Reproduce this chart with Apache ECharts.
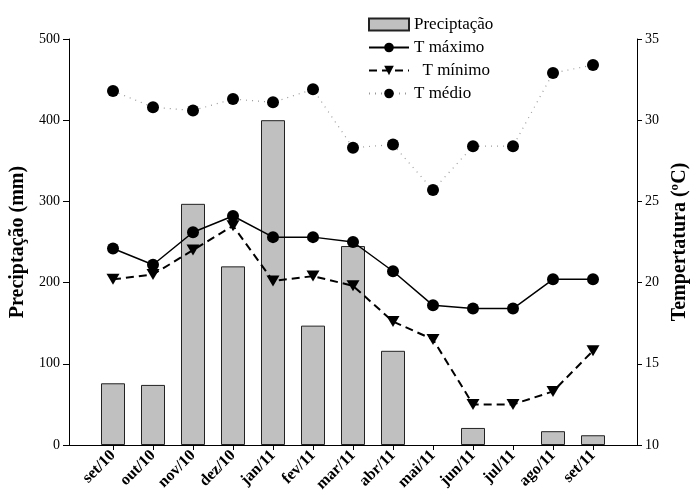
<!DOCTYPE html>
<html><head><meta charset="utf-8">
<script src="https://cdn.jsdelivr.net/npm/echarts@6/dist/echarts.min.js"></script>
<style>html,body{margin:0;padding:0;background:#fff}#c{width:690px;height:502px}</style>
</head><body><div id="c"></div>
<script>
var categories = ['set/10','out/10','nov/10','dez/10','jan/11','fev/11','mar/11','abr/11','mai/11','jun/11','jul/11','ago/11','set/11'];
var precip = [76, 74, 297, 220, 400, 147, 245, 116, 0, 21, 0, 17, 12];
var tMax = [22.1, 21.1, 23.1, 24.1, 22.8, 22.8, 22.5, 20.7, 18.6, 18.4, 18.4, 20.2, 20.2];
var tMin = [20.2, 20.5, 22.0, 23.5, 20.1, 20.4, 19.8, 17.6, 16.5, 12.5, 12.5, 13.3, 15.8];
var tMed = [31.8, 30.8, 30.6, 31.3, 31.1, 31.9, 28.3, 28.5, 25.7, 28.4, 28.4, 32.9, 33.4];
var leftTicks = [0, 100, 200, 300, 400, 500];
var rightTicks = [10, 15, 20, 25, 30, 35];

function pairs(arr){ return arr.map(function(v,i){ return [i, v]; }); }
function barPairs(arr){ return arr.map(function(v,i){ return v === 0 ? [i, '-'] : [i, v]; }); }
var idx = categories.map(function(c,i){ return i; });
var font = 'Liberation Serif';
var chart = echarts.init(document.getElementById('c'));
chart.setOption({
  animation: false,
  textStyle: {fontFamily: font, color: '#000'},
  grid: {left: 69, right: 53, top: 39, bottom: 57, containLabel: false, outerBoundsMode: 'none'},
  legend: {
    orient: 'vertical', left: 363, top: 11, itemGap: 6, itemWidth: 40, itemHeight: 12,
    textStyle: {fontFamily: font, fontSize: 17, color: '#000'},
    formatter: function(n){ return n === 'T mínimo' ? '  ' + n : n; },
    data: [{name: 'Preciptação', icon: 'rect'}, 'T máximo', 'T mínimo', 'T médio']
  },
  xAxis: {
    type: 'value', min: -1.1, max: 13.1,
    splitLine: {show: false},
    axisLine: {show: true, onZero: false, lineStyle: {color: '#000', width: 1}},
    axisTick: {show: true, length: 5, lineStyle: {color: '#000'}, customValues: idx},
    axisLabel: {customValues: idx, rotate: 45, fontFamily: font, fontWeight: 'bold', fontSize: 16, color: '#000', margin: 8,
      formatter: function(v){ return categories[Math.round(v)]; }}
  },
  yAxis: [{
    type: 'value', min: 0, max: 500, interval: 100,
    name: 'Preciptação (mm)', nameLocation: 'middle', nameGap: 38,
    nameTextStyle: {fontFamily: font, fontWeight: 'bold', fontSize: 20, color: '#000'},
    splitLine: {show: false},
    axisLine: {show: true, onZero: false, lineStyle: {color: '#000'}},
    axisTick: {show: true, length: 6, lineStyle: {color: '#000'}},
    axisLabel: {fontFamily: font, fontSize: 14, color: '#000', margin: 9,
      formatter: function(v){ return leftTicks.indexOf(v) >= 0 ? String(v) : ''; }}
  }, {
    type: 'value', min: 10, max: 35, interval: 5, position: 'right',
    name: 'Tempertatura (ºC)', nameLocation: 'middle', nameGap: 33, nameRotate: 90,
    nameTextStyle: {fontFamily: font, fontWeight: 'bold', fontSize: 20, color: '#000'},
    splitLine: {show: false},
    axisLine: {show: true, onZero: false, lineStyle: {color: '#000'}},
    axisTick: {show: true, length: 5, lineStyle: {color: '#000'}},
    axisLabel: {fontFamily: font, fontSize: 14, color: '#000', margin: 8,
      formatter: function(v){ return rightTicks.indexOf(v) >= 0 ? String(v) : ''; }}
  }],
  series: [{
    name: 'Preciptação', type: 'bar', yAxisIndex: 0, barWidth: 24,
    itemStyle: {color: '#c0c0c0', borderColor: '#222', borderWidth: 1},
    data: barPairs(precip)
  }, {
    name: 'T máximo', type: 'line', yAxisIndex: 1, symbol: 'circle', symbolSize: 12,
    itemStyle: {color: '#000'}, lineStyle: {color: '#000', width: 1.5},
    data: pairs(tMax)
  }, {
    name: 'T mínimo', type: 'line', yAxisIndex: 1, symbol: 'triangle', symbolSize: [13, 11], symbolRotate: 180,
    itemStyle: {color: '#000'}, lineStyle: {color: '#000', width: 2, type: [8, 5]},
    data: pairs(tMin)
  }, {
    name: 'T médio', type: 'line', yAxisIndex: 1, symbol: 'circle', symbolSize: 12,
    itemStyle: {color: '#000'}, lineStyle: {color: '#999', width: 1.2, type: [1, 5]},
    data: pairs(tMed)
  }]
});
</script></body></html>
